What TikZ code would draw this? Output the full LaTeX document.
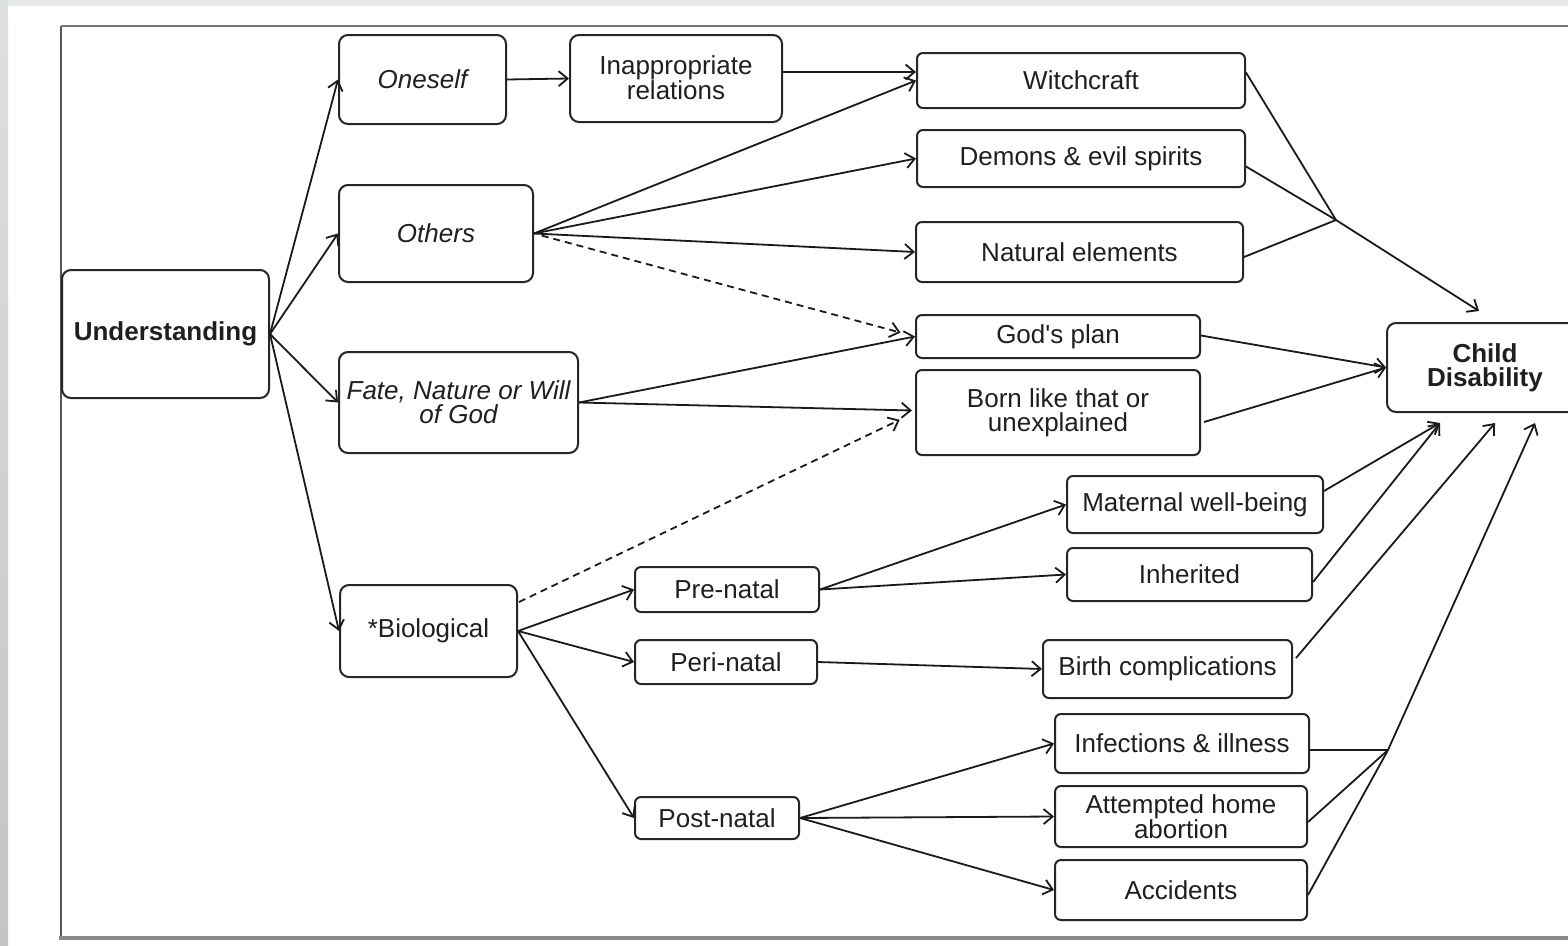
\documentclass[tikz,border=0pt]{standalone}
\usepackage{fontspec}
\setmainfont{Liberation Sans}
\usetikzlibrary{arrows.meta,calc}
\definecolor{boxc}{HTML}{262626}
\definecolor{linec}{HTML}{1A1A1A}
\definecolor{txtc}{HTML}{1F1F1F}
\definecolor{topc}{HTML}{E6E8E8}
\definecolor{sideA}{HTML}{DDE0E0}
\definecolor{sideB}{HTML}{C2C5C5}
\definecolor{frameL}{HTML}{555555}
\definecolor{frameT}{HTML}{777777}
\definecolor{frameB}{HTML}{8A8A8A}
\newcommand\fsz{\fontsize{26}{24}\selectfont}
\begin{document}
\begin{tikzpicture}[x=1pt,y=-1pt,
  bigbox/.style={draw=boxc, line width=2pt, rounded corners=9pt, inner sep=0pt, align=center, text=txtc, font=\fsz},
  sbox/.style={bigbox, rounded corners=6pt},
  conn/.style={draw=linec, line width=1.8pt, -{Straight Barb[length=9pt,width=15pt]}},
  dconn/.style={conn, dash pattern=on 7pt off 5pt},
  segline/.style={draw=linec, line width=1.8pt}
]
\useasboundingbox (0,0) rectangle (1568,945);
\fill[white] (0,0) rectangle (1568,945);
\fill[topc] (0,0) rectangle (1568,6);
\shade[top color=sideA, bottom color=sideB] (0,0) rectangle (8,945);
\draw[line width=2.2pt, draw=frameL] (61,936) -- (61,26);
\draw[line width=2.2pt, draw=frameT] (61,26) -- (1568,26);
\draw[line width=4.5pt, draw=frameB] (59,938) -- (1568,938);

% nodes
\node[bigbox, minimum width=207pt, minimum height=128pt, font=\fsz\bfseries] (und) at (165.5,334) {Understanding};
\node[bigbox, minimum width=167pt, minimum height=89pt, font=\fsz\itshape] (one) at (422.5,79.5) {Oneself};
\node[bigbox, minimum width=212pt, minimum height=87pt] (inap) at (676,78.5) {\raisebox{2pt}{\shortstack{Inappropriate\\[-2pt]relations}}};
\node[bigbox, minimum width=194pt, minimum height=97pt, font=\fsz\itshape] (oth) at (436,233.5) {Others};
\node[bigbox, minimum width=239pt, minimum height=101pt, font=\fsz\itshape] (fate) at (458.5,402.5) {Fate, Nature or Will\\of God};
\node[bigbox, minimum width=177pt, minimum height=92pt] (bio) at (428.5,631) {*Biological};

\node[sbox, minimum width=328pt, minimum height=55pt] (witch) at (1081,80.5) {Witchcraft};
\node[sbox, minimum width=328pt, minimum height=57pt] (dem) at (1081,158.5) {Demons \& evil spirits};
\node[sbox, minimum width=327pt, minimum height=60pt] (nat) at (1079.5,252) {Natural elements};
\node[sbox, minimum width=284pt, minimum height=43pt] (god) at (1058,336.5) {God\textquotesingle s plan};
\node[sbox, minimum width=284pt, minimum height=85pt] (born) at (1058,412.5) {Born like that or\\unexplained};
\node[bigbox, minimum width=196pt, minimum height=89pt, font=\fsz\bfseries] (child) at (1485,367.5) {Child\\Disability};

\node[sbox, minimum width=184pt, minimum height=45pt] (pre) at (727,589.5) {Pre-natal};
\node[sbox, minimum width=182pt, minimum height=44pt] (peri) at (726,662) {Peri-natal};
\node[sbox, minimum width=164pt, minimum height=42pt] (post) at (717,818) {Post-natal};

\node[sbox, minimum width=256pt, minimum height=57pt] (mat) at (1195,504.5) {Maternal well-being};
\node[sbox, minimum width=245pt, minimum height=53pt] (inh) at (1189.5,574.5) {Inherited};
\node[sbox, minimum width=249pt, minimum height=58pt] (birth) at (1167.5,669) {Birth complications};
\node[sbox, minimum width=254pt, minimum height=59pt] (inf) at (1182,743.5) {Infections \& illness};
\node[sbox, minimum width=252pt, minimum height=61pt] (att) at (1181,816.5) {Attempted home\\abortion};
\node[sbox, minimum width=252pt, minimum height=60pt] (acc) at (1181,890) {Accidents};

% junctions and arrow targets
\coordinate (j1) at (1336,220);
\coordinate (t1) at (1479,311);
\coordinate (t3) at (1440,423);
\coordinate (t4) at (1495,423);
\coordinate (t5) at (1535,423);
\coordinate (j2) at (1388,750);

% connectors
\draw[conn] (und.east) -- (one.west);
\draw[conn] (und.east) -- (oth.west);
\draw[conn] (und.east) -- (fate.west);
\draw[conn] (und.east) -- (bio.west);
\draw[conn] (one.east) -- (inap.west);
\draw[conn] ($(inap.east)+(0,-6.5)$) -- ($(witch.west)+(0,-8.5)$);
\draw[conn] (oth.east) -- (witch.west);
\draw[conn] (oth.east) -- (dem.west);
\draw[conn] (oth.east) -- (nat.west);
\draw[dconn, shorten <=8pt, shorten >=15pt] (oth.east) -- (god.west);
\draw[conn] (fate.east) -- (god.west);
\draw[conn] (fate.east) -- ($(born.west)+(-3,-2)$);
\draw[dconn, shorten >=17pt] ($(bio.east)+(1,-29)$) -- (born.west);
\draw[conn] (bio.east) -- (pre.west);
\draw[conn] (bio.east) -- (peri.west);
\draw[conn] (bio.east) -- (post.west);
\draw[conn] (pre.east) -- (mat.west);
\draw[conn] (pre.east) -- (inh.west);
\draw[conn] (peri.east) -- (birth.west);
\draw[conn] (post.east) -- (inf.west);
\draw[conn] (post.east) -- (att.west);
\draw[conn] (post.east) -- (acc.west);

\draw[segline] ($(witch.east)+(0,-8)$) -- (j1);
\draw[segline] ($(dem.east)+(0,8)$) -- (j1);
\draw[segline] ($(nat.east)+(0,5)$) -- (j1);
\draw[conn] (j1) -- (t1);
\draw[conn] ($(god.east)+(0,-1)$) -- (child.west);
\draw[conn] ($(born.east)+(3,9.5)$) -- (child.west);
\draw[conn] ($(mat.east)+(0,-13.5)$) -- (t3);
\draw[conn] ($(inh.east)+(0,7.5)$) -- (t3);
\draw[conn] ($(birth.east)+(3,-11)$) -- (t4);
\draw[segline] ($(inf.east)+(0,6.5)$) -- (j2);
\draw[segline] ($(att.east)+(0,5.5)$) -- (j2);
\draw[segline] ($(acc.east)+(0,5)$) -- (j2);
\draw[conn] (j2) -- (t5);
\end{tikzpicture}
\end{document}
